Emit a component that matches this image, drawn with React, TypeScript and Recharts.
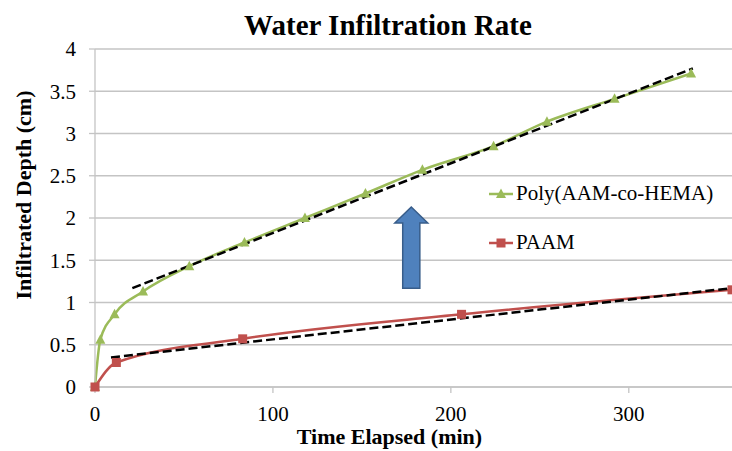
import React from "react"
import {
  LineChart,
  Line,
  XAxis,
  YAxis,
  CartesianGrid,
  Legend,
  Label,
  ReferenceArea,
} from "recharts"

// Poly(AAM-co-HEMA) readings
const polyTime = [0, 3, 11, 27, 53, 84, 118, 152, 184, 224, 254, 292, 335]
const polyDepth = [0, 0.56, 0.86, 1.13, 1.43, 1.71, 2.0, 2.29, 2.57, 2.85, 3.14, 3.41, 3.71]

// PAAM readings
const paamTime = [0, 12, 83, 206, 358]
const paamDepth = [0, 0.29, 0.57, 0.86, 1.15]

// linear fit end points (dashed)
const polyFitTime = [21, 336]
const polyFitDepth = [1.17, 3.77]
const paamFitTime = [9, 358]
const paamFitDepth = [0.35, 1.17]

// blue arrow box
const arrowTime = [168.5, 187]
const arrowDepth = [1.17, 2.13]

const xTicks = [0, 100, 200, 300]
const yTicks = [0, 0.5, 1, 1.5, 2, 2.5, 3, 3.5, 4]

const FONT = "'Liberation Serif', 'Times New Roman', serif"
const GREEN = "#9bbb59"
const RED = "#c0504d"
const GRID = "#c4c4c4"

const toRows = (t: number[], d: number[]) => t.map((v, i) => ({ t: v, d: d[i] }))

const polyData = toRows(polyTime, polyDepth)
const paamData = toRows(paamTime, paamDepth)
const polyFit = toRows(polyFitTime, polyFitDepth)
const paamFit = toRows(paamFitTime, paamFitDepth)

const Triangle = (props: any) => {
  const { cx, cy, index } = props
  return (
    <path
      key={`tri-${index}`}
      d={`M${cx},${cy - 5.5} L${cx + 5},${cy + 4} L${cx - 5},${cy + 4} Z`}
      fill={GREEN}
    />
  )
}

const Square = (props: any) => {
  const { cx, cy, index } = props
  return <rect key={`sq-${index}`} x={cx - 4.5} y={cy - 4.5} width={9} height={9} fill={RED} />
}

const Arrow = (props: any) => {
  const { x, y, width, height } = props
  const cx = x + width / 2
  const shaft = width * 0.26
  const head = 16
  const d = [
    `M${cx},${y}`,
    `L${x + width},${y + head}`,
    `L${cx + shaft},${y + head}`,
    `L${cx + shaft},${y + height}`,
    `L${cx - shaft},${y + height}`,
    `L${cx - shaft},${y + head}`,
    `L${x},${y + head}`,
    "Z",
  ].join(" ")
  return <path d={d} fill="#4f81bd" stroke="#385d8a" strokeWidth={1.5} />
}

const XTick = (props: any) => {
  const { x, y, payload } = props
  return (
    <text x={x} y={y} dy="0.71em" textAnchor="middle" fontFamily={FONT} fontSize={21} fill="#000">
      {payload.value}
    </text>
  )
}

const YTick = (props: any) => {
  const { x, y, payload } = props
  return (
    <text x={x} y={y} dy="0.355em" textAnchor="end" fontFamily={FONT} fontSize={21} fill="#000">
      {payload.value}
    </text>
  )
}

// rotated y title, a bit above the plot centre like the original
const YTitle = (props: any) => {
  const { viewBox } = props
  const x = viewBox.x + 31
  const y = viewBox.y + viewBox.height / 2 - 23
  return (
    <text
      x={x}
      y={y}
      transform={`rotate(-90, ${x}, ${y})`}
      textAnchor="middle"
      fontFamily={FONT}
      fontWeight="bold"
      fontSize={22}
      fill="#000"
    >
      Infiltrated Depth (cm)
    </text>
  )
}

const legendItems = [
  { name: "Poly(AAM-co-HEMA)", color: GREEN, marker: "tri" },
  { name: "PAAM", color: RED, marker: "sq" },
]

const LegendBox = () => (
  <div style={{ fontFamily: FONT, fontSize: 21, color: "#000" }}>
    {legendItems.map((it) => (
      <div key={it.name} style={{ display: "flex", alignItems: "center", height: 49 }}>
        <svg width={27} height={14}>
          <line x1={0} y1={7} x2={24} y2={7} stroke={it.color} strokeWidth={2.5} />
          {it.marker === "tri" ? (
            <path d="M12,1.5 L17,11 L7,11 Z" fill={it.color} />
          ) : (
            <rect x={7.5} y={2.5} width={9} height={9} fill={it.color} />
          )}
        </svg>
        <span>{it.name}</span>
      </div>
    ))}
  </div>
)

export default function App() {
  return (
    <div style={{ position: "absolute", left: 0, top: 0, width: 732, height: 451, background: "#fff" }}>
      <div
        style={{
          position: "absolute",
          left: 0,
          width: 776,
          top: 11,
          textAlign: "center",
          fontFamily: FONT,
          fontWeight: "bold",
          fontSize: 29,
          lineHeight: "29px",
          color: "#000",
        }}
      >
        Water Infiltration Rate
      </div>
      <LineChart
        width={732}
        height={451}
        margin={{ top: 49, right: 0, bottom: 0, left: 0 }}
        style={{ fontFamily: FONT }}
      >
        <CartesianGrid stroke={GRID} vertical={false} strokeWidth={1.3} />
        <XAxis
          dataKey="t"
          type="number"
          domain={[0, 358]}
          ticks={xTicks}
          height={64}
          tick={<XTick />}
          tickSize={6}
          tickMargin={13}
          axisLine={{ stroke: GRID, strokeWidth: 1.3 }}
          tickLine={{ stroke: GRID, strokeWidth: 1.3 }}
        >
          <Label
            value="Time Elapsed (min)"
            position="insideBottom"
            offset={7}
            dx={-24}
            style={{ fontFamily: FONT, fontWeight: "bold", fontSize: 22, fill: "#000" }}
          />
        </XAxis>
        <YAxis
          type="number"
          domain={[0, 4]}
          ticks={yTicks}
          width={95}
          tick={<YTick />}
          tickSize={6}
          tickMargin={13}
          axisLine={{ stroke: GRID, strokeWidth: 1.3 }}
          tickLine={{ stroke: GRID, strokeWidth: 1.3 }}
        >
          <Label content={<YTitle />} />
        </YAxis>
        <ReferenceArea
          x1={arrowTime[0]}
          x2={arrowTime[1]}
          y1={arrowDepth[0]}
          y2={arrowDepth[1]}
          shape={<Arrow />}
        />
        <Legend
          layout="horizontal"
          verticalAlign="middle"
          align="center"
          content={<LegendBox />}
          wrapperStyle={{ left: 489, top: 169, width: 240 }}
        />
        <Line
          data={polyData}
          dataKey="d"
          name="Poly(AAM-co-HEMA)"
          type="monotone"
          stroke={GREEN}
          strokeWidth={2.5}
          dot={Triangle}
          activeDot={false}
          isAnimationActive={false}
        />
        <Line
          data={paamData}
          dataKey="d"
          name="PAAM"
          type="monotone"
          stroke={RED}
          strokeWidth={2.5}
          dot={Square}
          activeDot={false}
          isAnimationActive={false}
        />
        <Line
          data={polyFit}
          dataKey="d"
          legendType="none"
          type="linear"
          stroke="#000"
          strokeWidth={2.5}
          strokeDasharray="9 4"
          dot={false}
          activeDot={false}
          isAnimationActive={false}
        />
        <Line
          data={paamFit}
          dataKey="d"
          legendType="none"
          type="linear"
          stroke="#000"
          strokeWidth={2.5}
          strokeDasharray="9 4"
          dot={false}
          activeDot={false}
          isAnimationActive={false}
        />
      </LineChart>
    </div>
  )
}
